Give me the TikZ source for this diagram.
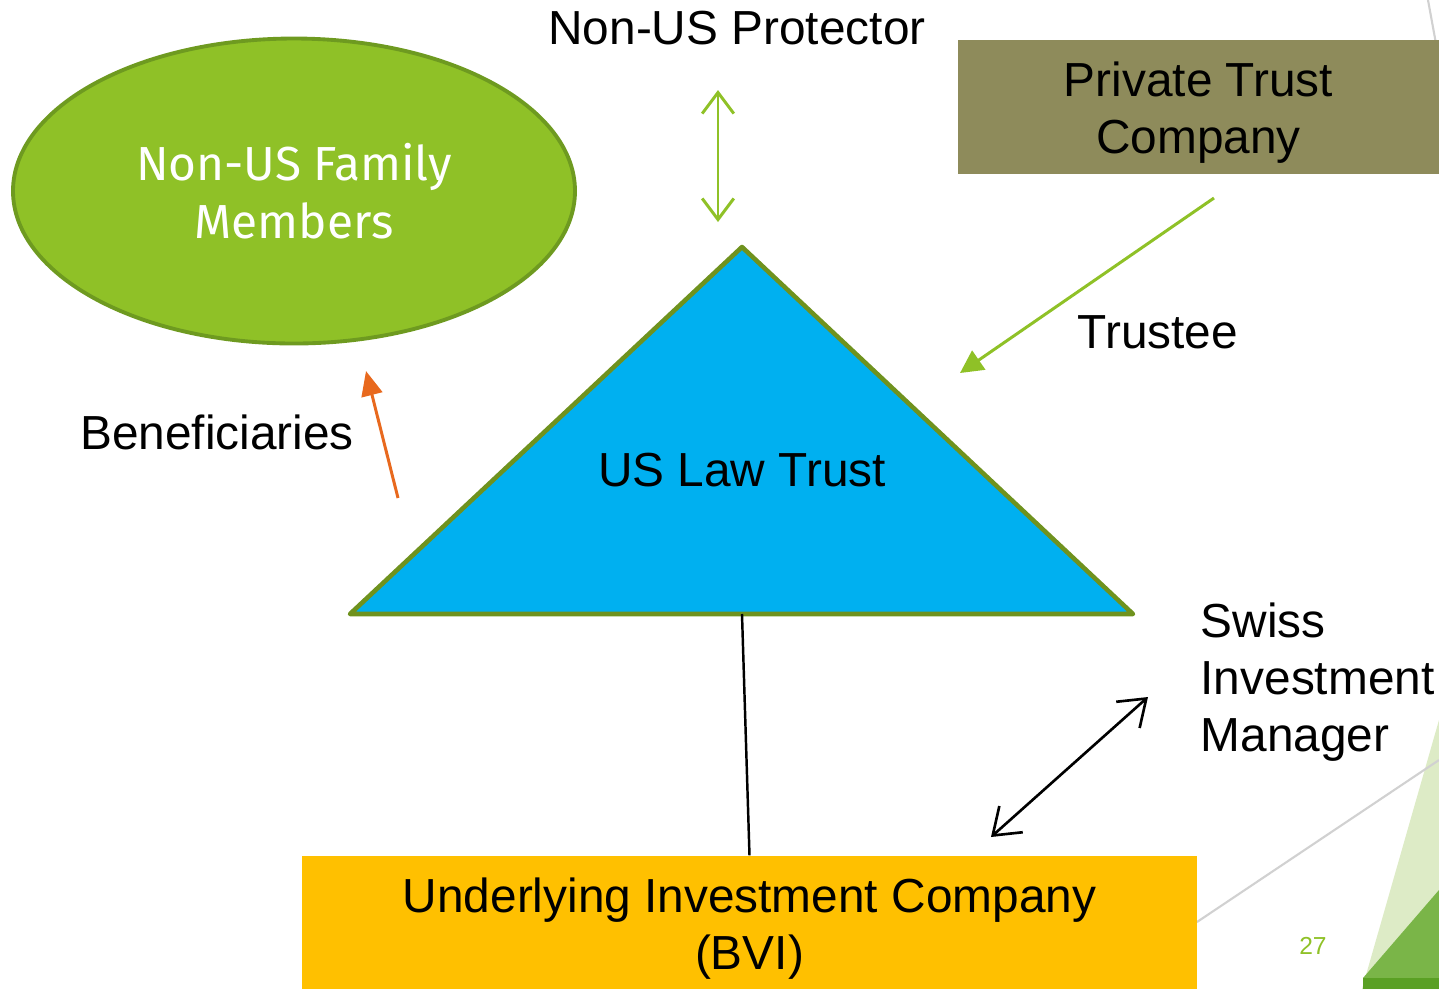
\documentclass[tikz,border=0pt]{standalone}
\usepackage{fontspec}
\setmainfont{Liberation Sans}
\newfontfamily\famfont{Fira Sans}
\usepackage{tikz}
\usetikzlibrary{shapes.geometric, arrows.meta, positioning}

\definecolor{famgreen}{HTML}{8FC127}
\definecolor{famedge}{HTML}{6E9A20}
\definecolor{trustblue}{HTML}{00B0F0}
\definecolor{trustedge}{HTML}{6F921E}
\definecolor{ptcolive}{HTML}{8E8B5B}
\definecolor{uicgold}{HTML}{FFC000}
\definecolor{benorange}{HTML}{E8691E}
\definecolor{decolight}{HTML}{DDEBC6}
\definecolor{decomid}{HTML}{7AB548}
\definecolor{decodark}{HTML}{5AA024}

\newcommand{\topstrut}{\rule{0pt}{13.3pt}}

\begin{document}
\begin{tikzpicture}[
	x=1cm, y=1cm,
	label/.style={font=\fontsize{13.6}{16.2}\selectfont, text=black, align=left, inner sep=0pt},
	family/.style={ellipse, draw=famedge, line width=1.1pt, fill=famgreen, minimum width=5.62cm, minimum height=3.05cm, text=white, align=center, font=\famfont\fontsize{13.6}{16.4}\selectfont},
	ptcbox/.style={rectangle, fill=ptcolive, inner sep=0pt, minimum width=4.81cm, minimum height=1.34cm, align=center, font=\fontsize{13.6}{16.2}\selectfont},
	uicbox/.style={rectangle, fill=uicgold, inner sep=0pt, minimum width=8.95cm, minimum height=1.33cm, align=center, font=\fontsize{13.6}{16.2}\selectfont},
	greenarrow/.style={famgreen, line width=0.85pt},
	blackarrow/.style={black, line width=0.75pt},
	]
	\useasboundingbox (0,0) rectangle (14.39,-9.89);

	% Background decoration
	\draw[black!18, line width=0.6pt] (14.28,0) -- (14.39,-0.60);
	\fill[decolight] (14.39,-7.20) -- (13.62,-9.89) -- (14.39,-9.89) -- cycle;
	\fill[decomid] (14.39,-8.90) -- (13.63,-9.78) -- (14.39,-9.78) -- cycle;
	\fill[decodark] (13.63,-9.78) rectangle (14.39,-9.89);
	\draw[black!18, line width=0.6pt] (11.97,-9.22) -- (14.39,-7.60);
	\node (page) at (13.13,-9.46) [font=\fontsize{7}{8}\selectfont, text=famgreen] {27};

	% Nodes
	\node (family) at (2.94,-1.91) [family] {Non-US Family\\Members};
	\node (ptc) at (11.985,-1.07) [ptcbox] {\topstrut Private Trust\\Company};
	\node (uic) at (7.495,-9.225) [uicbox] {\topstrut Underlying Investment Company\\(BVI)};
	\draw[fill=trustblue, draw=trustedge, line width=1.3pt, line join=round]
		(7.42,-2.47) -- (3.50,-6.14) -- (11.33,-6.14) -- cycle;
	\node (trust) at (7.42,-4.70) [font=\fontsize{13.6}{16.2}\selectfont] {US Law Trust};
	\coordinate (trustbase) at (7.42,-6.14);

	\node (protector) at (7.37,-0.28) [label] {Non-US Protector};
	\node (trustee) at (11.58,-3.32) [label] {Trustee};
	\node (benef) at (2.17,-4.32) [label] {Beneficiaries};
	\node (swiss) at (12.00,-6.82) [label, anchor=west] {Swiss\\Investment\\Manager};

	% Arrow ends
	\coordinate (protA) at (7.18,-0.90);
	\coordinate (protB) at (7.18,-2.22);
	\coordinate (trusteeA) at (12.14,-1.98);
	\coordinate (trusteeB) at (9.60,-3.73);
	\coordinate (benefA) at (3.98,-4.98);
	\coordinate (benefB) at (3.66,-3.71);
	\coordinate (swissA) at (11.48,-6.97);
	\coordinate (swissB) at (9.91,-8.37);

	% Arrows
	\draw[greenarrow, {Straight Barb[length=6pt, width=9pt]}-{Straight Barb[length=6pt, width=9pt]}] (protA) -- (protB);
	\draw[greenarrow, -{Triangle[length=6.5pt, width=6.5pt]}] (trusteeA) -- (trusteeB);
	\draw[benorange, line width=0.85pt, -{Triangle[length=7pt, width=6pt]}] (benefA) -- (benefB);
	\draw[blackarrow, {Straight Barb[length=7pt, width=10pt]}-{Straight Barb[length=7pt, width=10pt]}] (swissA) -- (swissB);
	\draw[black, line width=0.7pt] (trustbase) -- (uic.north);

\end{tikzpicture}
\end{document}
